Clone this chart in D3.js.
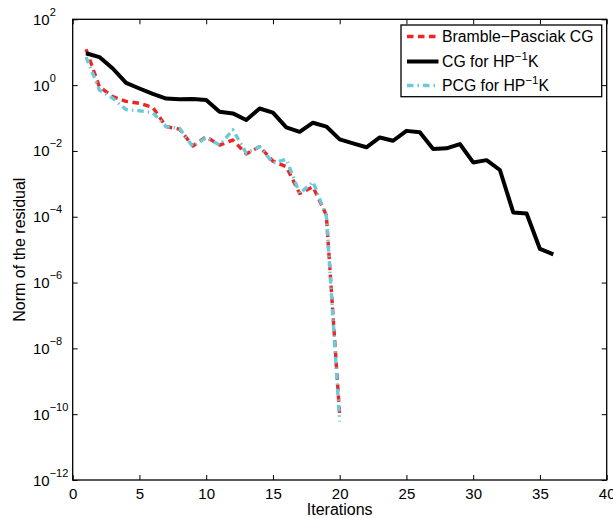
<!DOCTYPE html>
<html>
<head>
<meta charset="utf-8">
<script src="https://cdnjs.cloudflare.com/ajax/libs/d3/7.8.5/d3.min.js"></script>
<style>
  body { margin: 0; background: #fff; }
  text { font-family: "Liberation Sans", Arial, Helvetica, sans-serif; }
</style>
</head>
<body>
<div id="chart"></div>
<script>
// iterations and residual norms
var itersCG = [1, 2, 3, 4, 5, 6, 7, 8, 9, 10, 11, 12, 13, 14, 15, 16, 17, 18,
  19, 20, 21, 22, 23, 24, 25, 26, 27, 28, 29, 30, 31, 32, 33, 34, 35, 36];
var resCG = [9.3, 7.1, 3.2, 1.17, 0.79, 0.54, 0.39, 0.37, 0.38, 0.355, 0.155, 0.138,
  0.087, 0.195, 0.145, 0.052, 0.038, 0.072, 0.055, 0.0224, 0.017, 0.0129, 0.0257, 0.0204,
  0.0407, 0.0372, 0.0115, 0.012, 0.0162, 0.00447, 0.00525, 0.00263, 1.35e-4, 1.26e-4,
  1.05e-5, 7.2e-6];

var itersBP = [1, 2, 3, 4, 5, 6, 7, 8, 9, 10, 11, 12, 13, 14, 15, 16, 17, 18, 19, 20];
var resBP = [12.3, 0.89, 0.45, 0.32, 0.28, 0.21, 0.055, 0.046, 0.0141, 0.027, 0.0151,
  0.0214, 0.0081, 0.0135, 0.0049, 0.0033, 5.1e-4, 8.1e-4, 1.12e-4, 9.3e-11];
var resPCG = [7.1, 0.71, 0.40, 0.18, 0.166, 0.145, 0.055, 0.049, 0.0135, 0.0257, 0.0151,
  0.0437, 0.0085, 0.0135, 0.0043, 0.0056, 5.1e-4, 1.15e-3, 1.05e-4, 5.9e-11];

var xTicks = [0, 5, 10, 15, 20, 25, 30, 35, 40];
var yExps = [2, 0, -2, -4, -6, -8, -10, -12];

var w = 613, h = 518;
var pLeft = 72.7, pRight = 606.7, pTop = 19.3, pBottom = 480;

var svg = d3.select("#chart")
  .append("svg")
  .attr("width", w)
  .attr("height", h);

var x = d3.scaleLinear().domain([0, 40]).range([pLeft, pRight]);
var y = d3.scaleLog().domain([1e-12, 1e2]).range([pBottom, pTop]);

// axes, ticks point inwards like matlab
var yTickVals = yExps.map(function(e) { return Math.pow(10, e); });

svg.append("g")
  .attr("transform", "translate(0," + pBottom + ")")
  .call(d3.axisBottom(x).tickValues(xTicks).tickSize(-5).tickSizeOuter(0).tickPadding(8))
  .call(function(g) {
    g.selectAll("text").attr("font-size", 15).attr("fill", "#000")
      .style("font-family", '"Liberation Sans", Arial, sans-serif');
  });

svg.append("g")
  .attr("transform", "translate(0," + pTop + ")")
  .call(d3.axisTop(x).tickValues(xTicks).tickSize(-5).tickSizeOuter(0).tickFormat(""));

svg.append("g")
  .attr("transform", "translate(" + pLeft + ",0)")
  .call(d3.axisLeft(y).tickValues(yTickVals).tickSize(-5).tickSizeOuter(0).tickFormat(""));

svg.append("g")
  .attr("transform", "translate(" + pRight + ",0)")
  .call(d3.axisRight(y).tickValues(yTickVals).tickSize(-5).tickSizeOuter(0).tickFormat(""));

svg.selectAll(".domain").remove();
svg.selectAll(".tick line").attr("stroke", "#000");

svg.append("rect")
  .attr("x", pLeft)
  .attr("y", pTop)
  .attr("width", pRight - pLeft)
  .attr("height", pBottom - pTop)
  .attr("fill", "none")
  .attr("stroke", "#000")
  .attr("stroke-width", 1.3);

// y tick labels 10^n
var yLab = svg.append("g").selectAll("text")
  .data(yExps)
  .enter()
  .append("text")
  .attr("x", 33)
  .attr("y", function(d) { return y(Math.pow(10, d)) + 5.5; })
  .attr("font-size", 15);
yLab.append("tspan").text("10");
yLab.append("tspan")
  .attr("dy", -9)
  .attr("font-size", 11)
  .text(function(d) { return d < 0 ? "\u2212" + (-d) : d; });

// axis titles
svg.append("text")
  .attr("x", (pLeft + pRight) / 2)
  .attr("y", 515)
  .attr("text-anchor", "middle")
  .attr("font-size", 16)
  .text("Iterations");

svg.append("text")
  .attr("transform", "translate(25," + (pTop + pBottom) / 2 + ") rotate(-90)")
  .attr("text-anchor", "middle")
  .attr("font-size", 16)
  .text("Norm of the residual");

// lines
var line = d3.line()
  .x(function(d) { return x(d[0]); })
  .y(function(d) { return y(d[1]); });

var series = [
  { pts: d3.zip(itersBP, resBP), color: "#f02424", width: 3.4, dash: "6.5,4.5" },
  { pts: d3.zip(itersCG, resCG), color: "#000", width: 4, dash: null },
  { pts: d3.zip(itersBP, resPCG), color: "#6ccad8", width: 3.4, dash: "6.5,4,1.5,4" }
];

svg.append("g").selectAll("path")
  .data(series)
  .enter()
  .append("path")
  .attr("d", function(d) { return line(d.pts); })
  .attr("fill", "none")
  .attr("stroke", function(d) { return d.color; })
  .attr("stroke-width", function(d) { return d.width; })
  .attr("stroke-dasharray", function(d) { return d.dash; })
  .attr("stroke-linejoin", "round");

// legend
var legend = svg.append("g");

legend.append("rect")
  .attr("x", 401)
  .attr("y", 25)
  .attr("width", 200.7)
  .attr("height", 71.7)
  .attr("fill", "#fff")
  .attr("stroke", "#000")
  .attr("stroke-width", 1.3);

var rowY = [36.5, 61.5, 85.5];

legend.selectAll("line")
  .data(series)
  .enter()
  .append("line")
  .attr("x1", 407)
  .attr("x2", 438.5)
  .attr("y1", function(d, i) { return rowY[i]; })
  .attr("y2", function(d, i) { return rowY[i]; })
  .attr("stroke", function(d) { return d.color; })
  .attr("stroke-width", function(d) { return d.width; })
  .attr("stroke-dasharray", function(d) { return d.dash; });

legend.append("text")
  .attr("x", 442)
  .attr("y", rowY[0] + 5.5)
  .attr("font-size", 15.8)
  .text("Bramble\u2212Pasciak CG");

[["CG for HP", 1], ["PCG for HP", 2]].forEach(function(r) {
  var t = legend.append("text")
    .attr("x", 442)
    .attr("y", rowY[r[1]] + 5.5)
    .attr("font-size", 15.8);
  t.append("tspan").text(r[0]);
  t.append("tspan").attr("dy", -7.5).attr("font-size", 11.5).text("\u22121");
  t.append("tspan").attr("dy", 7.5).text("K");
});
</script>
</body>
</html>
